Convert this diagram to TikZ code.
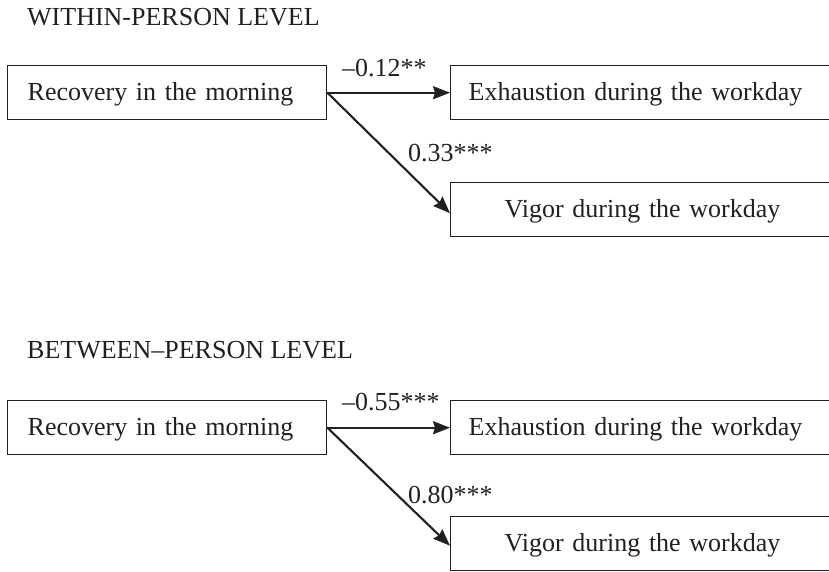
\documentclass[tikz,border=0pt]{standalone}
\usepackage{fontspec}
\setmainfont{Liberation Serif}
\usetikzlibrary{arrows.meta}
\definecolor{ink}{HTML}{231F20}
\tikzset{
  box/.style={draw=ink, line width=1.4pt, inner ysep=0pt, minimum height=54pt,
    text height=16pt, text depth=0pt, anchor=north west, text=ink},
  leftbox/.style={box, text width=279pt, inner xsep=20pt, align=left},
  exhbox/.style={box, text width=380pt, inner xsep=18pt, align=left},
  vigbox/.style={box, text width=344pt, inner xsep=54pt, align=left},
  arr/.style={draw=ink, line width=2.1pt, -{Stealth[length=17pt,width=13pt,inset=2pt]}},
  lab/.style={anchor=base west, inner sep=0pt, text=ink},
}
\begin{document}
\begin{tikzpicture}[x=1pt,y=-1pt,font=\fontsize{26}{30}\selectfont]
\useasboundingbox (0,0) rectangle (829,571);
% within-person
\node[lab] (t1) at (27,25) {WITHIN-PERSON LEVEL};
\node[leftbox] (r1) at (7,65) {Recovery in the morning};
\node[exhbox] (e1) at (450,65) {Exhaustion during the workday};
\node[vigbox] (v1) at (450,181.5) {Vigor during the workday};
\draw[arr] (r1.east) -- (e1.west);
\draw[arr] (r1.east) -- ([yshift=-4pt]v1.west);
\node[lab] (l1) at (342,76.7) {\textendash0.12**};
\node[lab] (l2) at (408,161.7) {0.33***};
% between-person
\node[lab] (t2) at (27,358.3) {BETWEEN\textendash PERSON LEVEL};
\node[leftbox] (r2) at (7,400) {Recovery in the morning};
\node[exhbox] (e2) at (450,400) {Exhaustion during the workday};
\node[vigbox] (v2) at (450,516) {Vigor during the workday};
\draw[arr] (r2.east) -- (e2.west);
\draw[arr] (r2.east) -- ([yshift=-2pt]v2.west);
\node[lab] (l3) at (342,410) {\textendash0.55***};
\node[lab] (l4) at (408,503.3) {0.80***};
\end{tikzpicture}
\end{document}
